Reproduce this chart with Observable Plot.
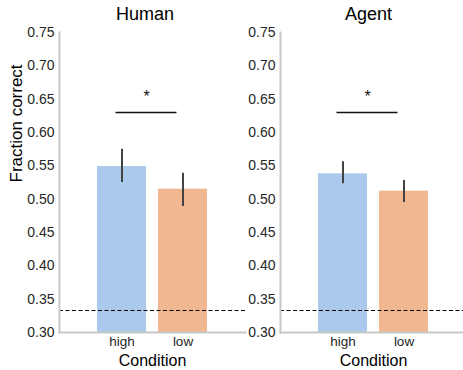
<!DOCTYPE html>
<html>
<head>
<meta charset="utf-8">
<script src="https://cdn.jsdelivr.net/npm/d3@7"></script>
<script src="https://cdn.jsdelivr.net/npm/@observablehq/plot@0.6"></script>
<style>
  html, body { margin: 0; padding: 0; background: #fff; overflow: hidden; }
  #wrap { position: relative; width: 463px; height: 370px; overflow: hidden; font-family: "Liberation Sans", Arial, sans-serif; }
  #wrap svg { position: absolute; top: 0; }
</style>
</head>
<body>
<div id="wrap"></div>
<script>
// ---- data ----
const conditions = ["high", "low"];
const panels = ["Human", "Agent"];
const humanMean = [0.549, 0.515];
const humanLo = [0.525, 0.489];
const humanHi = [0.575, 0.539];
const agentMean = [0.538, 0.512];
const agentLo = [0.523, 0.495];
const agentHi = [0.556, 0.528];
const chance = [0.333];
const sigLevel = [0.63];
const sigLabel = ["*"];
const yTicks = [0.30, 0.35, 0.40, 0.45, 0.50, 0.55, 0.60, 0.65, 0.70, 0.75];
const yDomain = [0.30, 0.75];
const barColors = ["#abc9eb", "#f0b791"];
const yLabel = "Fraction correct";
const xLabel = "Condition";

const font = '"Liberation Sans", Arial, sans-serif';
const spine = "#c8c8c8";
const ink = "#262626";

function panel(name, mean, lo, hi, opts) {
  const data = conditions.map((c, i) => ({cond: c, mean: mean[i], lo: lo[i], hi: hi[i]}));
  const marks = [
    Plot.barY(data, {x: "cond", y1: () => yDomain[0], y2: "mean", fill: "cond"}),
    Plot.ruleY(chance, {stroke: "#000", strokeWidth: 1.2, strokeDasharray: "4,2.5"}),
    Plot.ruleX(data, {x: "cond", y1: "lo", y2: "hi", stroke: "#424242", strokeWidth: 2}),
    Plot.link(sigLevel, {x1: () => conditions[0], x2: () => conditions[1], y1: d => d, y2: d => d, stroke: "#111", strokeWidth: 1.5, dx: -6.5}),
    Plot.text(sigLabel, {x: () => conditions[0], y: () => sigLevel[0], text: d => d, dx: 24.5, dy: -16, fontSize: 16, fill: "#111"}),
    Plot.frame({anchor: "left", stroke: spine, strokeWidth: 2}),
    Plot.frame({anchor: "bottom", stroke: spine, strokeWidth: 2}),
    Plot.axisY({ticks: yTicks, tickSize: 0, tickPadding: 5, tickFormat: d3.format(".2f"), fontSize: 14, fill: ink, label: null}),
    Plot.axisX({tickSize: 0, tickPadding: 4, fontSize: 13.5, fill: ink, label: null}),
    Plot.text([name], {frameAnchor: "top", dy: -18, dx: opts.titleDx, fontSize: 18, fill: "#000", lineAnchor: "middle"}),
    Plot.text([xLabel], {frameAnchor: "bottom", dy: 28, fontSize: 16, fill: "#000", lineAnchor: "middle"})
  ];
  if (opts.ylabel) {
    marks.push(Plot.text([yLabel], {frameAnchor: "left", dx: -43, rotate: -90, fontSize: 17, fill: "#000", lineAnchor: "middle"}));
  }
  const svg = Plot.plot({
    width: opts.width,
    height: 370,
    marginLeft: opts.marginLeft,
    marginRight: 0,
    marginTop: 32,
    marginBottom: 38,
    style: {fontFamily: font, background: "transparent", overflow: "visible"},
    x: {domain: conditions, paddingInner: 0.2, paddingOuter: 0.61, axis: null},
    y: {domain: yDomain, axis: null},
    color: {domain: conditions, range: barColors},
    marks
  });
  svg.style.left = opts.left + "px";
  return svg;
}

const wrap = document.getElementById("wrap");
wrap.appendChild(panel(panels[0], humanMean, humanLo, humanHi, {width: 245, marginLeft: 59, left: 0, titleDx: -7.5, ylabel: true}));
wrap.appendChild(panel(panels[1], agentMean, agentLo, agentHi, {width: 221, marginLeft: 35, left: 245, titleDx: -5, ylabel: false}));
</script>
</body>
</html>
